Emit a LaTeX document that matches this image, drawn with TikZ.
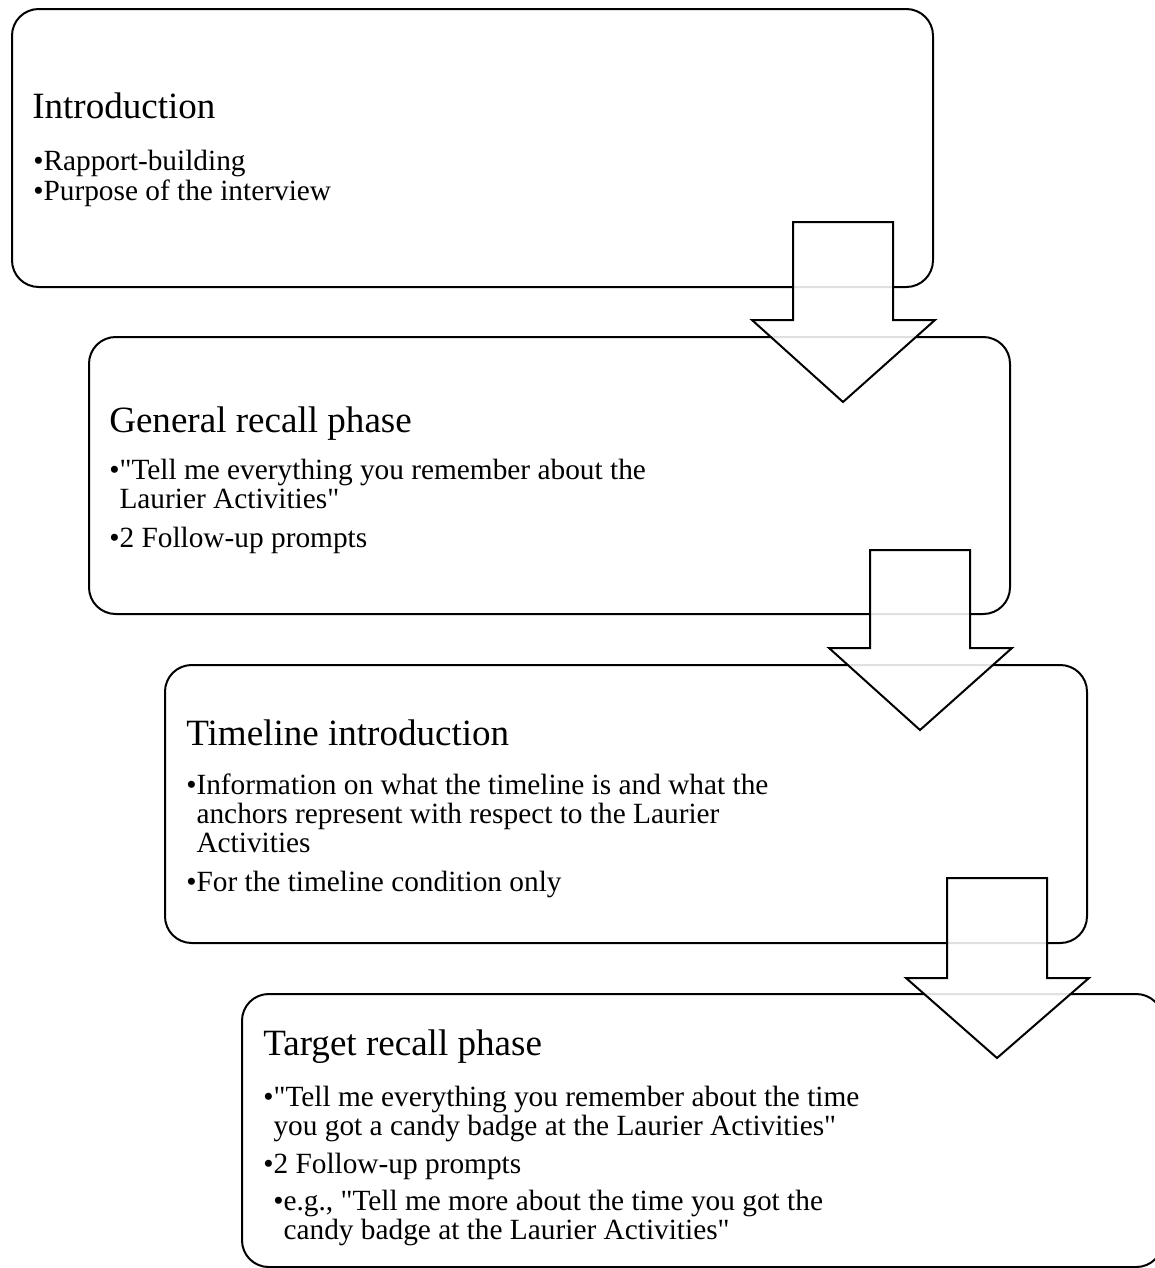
\documentclass[tikz,border=0pt]{standalone}
\usepackage{fontspec}
\setmainfont{Liberation Serif}[Ligatures=TeXOff]
\begin{document}
\begin{tikzpicture}[x=0.75pt,y=-0.75pt,
  box/.style={draw=black,line width=1.5pt,rounded corners=20pt},
  bigarrow/.style={draw=black,line width=1.5pt,fill=white,fill opacity=0.88,line join=miter},
  ttl/.style={anchor=base west,inner sep=0pt,font=\fontsize{27.8}{33}\selectfont},
  txt/.style={anchor=base west,inner sep=0pt,font=\fontsize{22}{26}\selectfont}]
\useasboundingbox (0,0) rectangle (1155,1268);
\clip (0,0) rectangle (1155,1268);
% boxes
\draw[box] (12,9) rectangle (933,287);
\draw[box] (89,337) rectangle (1010,614);
\draw[box] (165,665) rectangle (1087,943);
\draw[box] (242,994) rectangle (1163,1267);
% box 1 text
\node[ttl] (t1) at (32,118) {Introduction};
\node[txt] (t1a) at (33,170) {•Rapport-building};
\node[txt] (t1b) at (33,200) {•Purpose of the interview};
% box 2 text
\node[ttl] (t2) at (109,432) {General recall phase};
\node[txt] (t2a) at (109,479) {•"Tell me everything you remember about the};
\node[txt] (t2b) at (109,508) {\phantom{•}Laurier Activities"};
\node[txt] (t2c) at (109,547) {•2 Follow-up prompts};
% box 3 text
\node[ttl] (t3) at (186,745) {Timeline introduction};
\node[txt] (t3a) at (186,794) {•Information on what the timeline is and what the};
\node[txt] (t3b) at (186,823) {\phantom{•}anchors represent with respect to the Laurier};
\node[txt] (t3c) at (186,852) {\phantom{•}Activities};
\node[txt] (t3d) at (186,891) {•For the timeline condition only};
% box 4 text
\node[ttl] (t4) at (263,1055) {Target recall phase};
\node[txt] (t4a) at (263,1106) {•"Tell me everything you remember about the time};
\node[txt] (t4b) at (263,1135) {\phantom{•}you got a candy badge at the Laurier Activities"};
\node[txt] (t4c) at (263,1173) {•2 Follow-up prompts};
\node[txt] (t4d) at (273,1210) {•e.g., "Tell me more about the time you got the};
\node[txt] (t4e) at (273,1239) {\phantom{•}candy badge at the Laurier Activities"};
% arrows
\draw[bigarrow] (793,222) -- (893,222) -- (893,320) -- (935,320) -- (843,402) -- (752,320) -- (793,320) -- cycle;
\draw[bigarrow] (870,550) -- (970,550) -- (970,648) -- (1012,648) -- (920,730) -- (829,648) -- (870,648) -- cycle;
\draw[bigarrow] (947,878) -- (1047,878) -- (1047,978) -- (1089,978) -- (997,1058) -- (906,978) -- (947,978) -- cycle;
\end{tikzpicture}
\end{document}
